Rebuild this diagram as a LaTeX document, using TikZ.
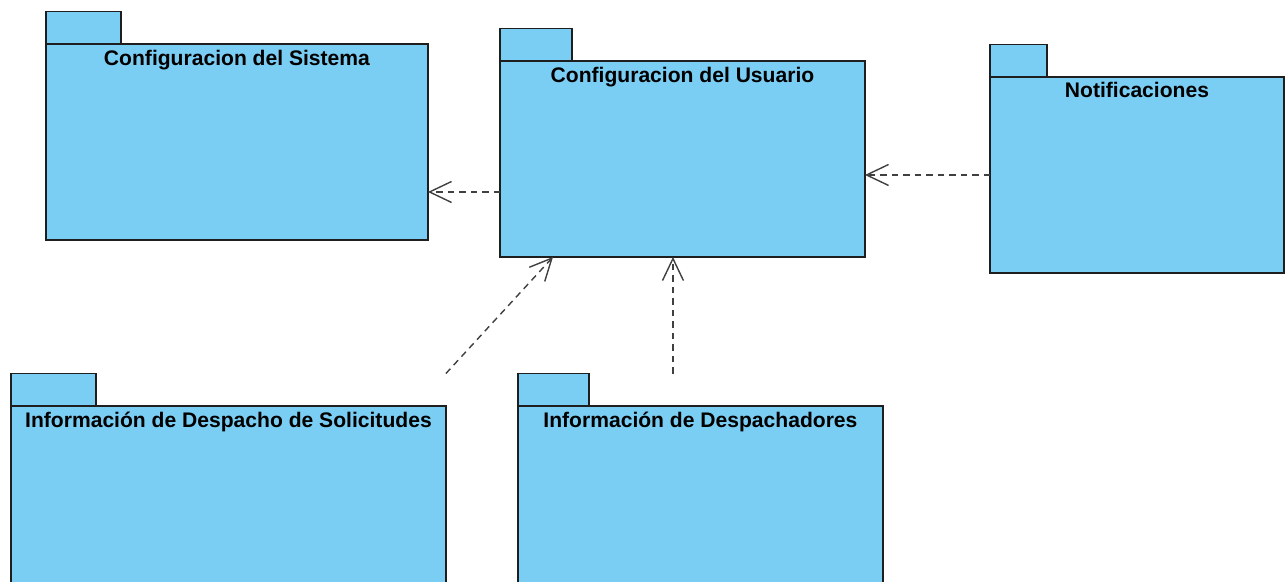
\documentclass[tikz,border=0pt]{standalone}
\usepackage{fontspec}
\setmainfont{Liberation Sans}
\usepackage{xcolor}
\usepackage{tikz}
\usetikzlibrary{arrows.meta, positioning}

\definecolor{pkgblue}{RGB}{122,206,244}
\definecolor{pkgline}{RGB}{30,30,30}

\begin{document}
\begin{tikzpicture}[x=0.02cm, y=-0.02cm]
    \tikzstyle{pkg} = [rectangle, anchor=north west, draw=pkgline, fill=pkgblue, line width=0.8pt, outer sep=0pt, minimum height=3.92cm]
    \tikzstyle{tab} = [rectangle, anchor=south west, draw=pkgline, fill=pkgblue, line width=0.8pt, outer sep=0pt, minimum height=0.65cm]
    \tikzstyle{title} = [anchor=base, font=\fontsize{12}{14}\selectfont\bfseries, inner sep=0pt]
    \tikzstyle{dep} = [draw=black!75, line width=0.8pt, dash pattern=on 0.13cm off 0.1cm, -{Straight Barb[length=0.44cm, width=0.42cm]}]

    \useasboundingbox (0,0) rectangle (1286,582);
    \clip (0,0) rectangle (1286,582);

    % packages
    \node (sistema) [pkg, minimum width=7.64cm] at (46,44) {};
    \node (sistemaTab) [tab, minimum width=1.5cm] at (sistema.north west) {};
    \node (sistemaTitle) [title] at ([yshift=-0.42cm]sistema.north) {Configuracion del Sistema};

    \node (usuario) [pkg, minimum width=7.3cm] at (500,61) {};
    \node (usuarioTab) [tab, minimum width=1.44cm] at (usuario.north west) {};
    \node (usuarioTitle) [title] at ([yshift=-0.42cm]usuario.north) {Configuracion del Usuario};

    \node (notif) [pkg, minimum width=5.88cm] at (990,77) {};
    \node (notifTab) [tab, minimum width=1.14cm] at (notif.north west) {};
    \node (notifTitle) [title] at ([yshift=-0.42cm]notif.north) {Notificaciones};

    \node (solic) [pkg, minimum width=8.7cm] at (11,406) {};
    \node (solicTab) [tab, minimum width=1.7cm] at (solic.north west) {};
    \node (solicTitle) [title] at ([yshift=-0.42cm]solic.north) {Información de Despacho de Solicitudes};

    \node (desp) [pkg, minimum width=7.3cm] at (518,406) {};
    \node (despTab) [tab, minimum width=1.42cm] at (desp.north west) {};
    \node (despTitle) [title] at ([yshift=-0.42cm]desp.north) {Información de Despachadores};

    % dependencies
    \coordinate (usuarioOut) at ([yshift=-0.66cm]usuario.west);
    \coordinate (usuarioInA) at ([xshift=-2.59cm]usuario.south);
    \coordinate (usuarioInB) at ([xshift=-0.19cm]usuario.south);

    \draw [dep] (usuarioOut) -- (usuarioOut -| sistema.east);
    \draw [dep] (notif.west) -- (notif.west -| usuario.east);
    \draw [dep] (solic.east |- solicTab.north) -- (usuarioInA);
    \draw [dep] (usuarioInB |- despTab.north) -- (usuarioInB);
\end{tikzpicture}
\end{document}
